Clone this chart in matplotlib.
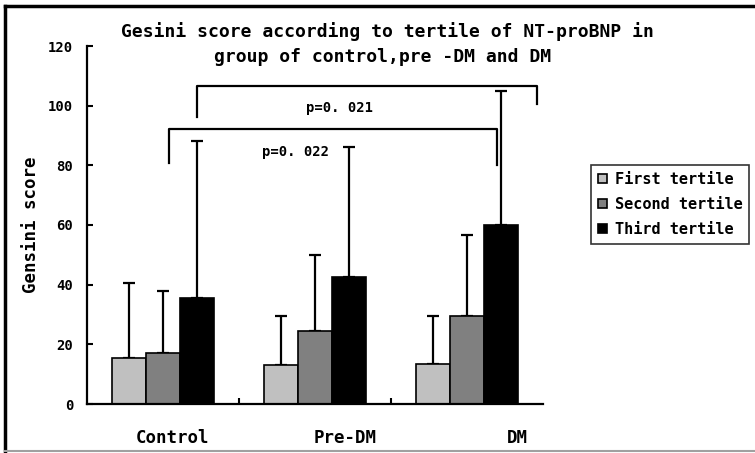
import matplotlib.pyplot as plt
from matplotlib.lines import Line2D
import numpy as np

groups = ["Control", "Pre-DM", "DM"]
series = ["First tertile", "Second tertile", "Third tertile"]
means = {
    "First tertile": [15.5, 13.0, 13.5],
    "Second tertile": [17.0, 24.5, 29.5],
    "Third tertile": [35.5, 42.5, 60.0],
}
upper = {
    "First tertile": [40.5, 29.5, 29.5],
    "Second tertile": [38.0, 50.0, 56.5],
    "Third tertile": [88.0, 86.0, 105.0],
}
colors = ["#c0c0c0", "#808080", "#000000"]

FONT = ["DejaVu Sans Mono"]

fig = plt.figure(figsize=(7.55, 4.53), dpi=100)
ax = fig.add_axes([87 / 755, 1 - 404 / 453, 456 / 755, 358 / 453])

x = np.arange(len(groups))
width = 0.222
for i, (name, color) in enumerate(zip(series, colors)):
    pos = x + (i - 1) * width
    vals = np.array(means[name])
    err = np.array(upper[name]) - vals
    ax.bar(pos, vals, width=width, color=color, edgecolor="black", linewidth=1.2,
           label=name, zorder=2)
    ax.errorbar(pos, vals, yerr=[np.zeros_like(err), err], fmt="none",
                ecolor="black", elinewidth=1.6, capsize=4, capthick=1.6, zorder=1)

ax.set_xlim(-0.5, 2.5)
ax.set_ylim(0, 120)
ax.set_yticks(np.arange(0, 121, 20))
ax.set_xticks([0.5, 1.5])
ax.set_xticklabels([])
ax.tick_params(axis="x", direction="in", length=4, width=1.5)
ax.tick_params(axis="y", direction="in", length=4, width=1.5, pad=10)
for t in ax.get_yticklabels():
    t.set_fontfamily(FONT)
    t.set_fontsize(10)
    t.set_fontweight("bold")
# category labels sit a bit right of the group centres, as in the source
label_offset = [0.06, 0.20, 0.33]
for lbl, xi, off in zip(groups, x, label_offset):
    ax.text(xi + off, -11.5, lbl, ha="center", va="center", fontsize=12.5,
            fontweight="bold", family=FONT)
for s in ["top", "right"]:
    ax.spines[s].set_visible(False)
ax.spines["left"].set_linewidth(1.6)
ax.spines["bottom"].set_linewidth(1.6)
ax.set_ylabel("Gensini score", fontsize=12.5, fontweight="bold", family=FONT, labelpad=6)

# significance brackets
ax.plot([0.224, 0.224, 2.46, 2.46], [96.3, 106.7, 106.7, 100.7], color="black", lw=1.6,
        clip_on=False)
ax.text(1.16, 99.3, "p=0. 021", ha="center", va="center", fontsize=10, fontweight="bold",
        family=FONT)
ax.plot([0.04, 0.04, 2.2, 2.2], [80.9, 92.3, 92.3, 80.0], color="black", lw=1.6,
        clip_on=False)
ax.text(0.875, 84.5, "p=0. 022", ha="center", va="center", fontsize=10, fontweight="bold",
        family=FONT)

fig.text(387 / 755, 1 - 32 / 453, "Gesini score according to tertile of NT-proBNP in",
         ha="center", va="center", fontsize=13, fontweight="bold", family=FONT)
fig.text(383 / 755, 1 - 57 / 453, "group of control,pre -DM and DM",
         ha="center", va="center", fontsize=13, fontweight="bold", family=FONT)

leg = fig.legend(loc="upper left", bbox_to_anchor=(591 / 755, 1 - 165 / 453),
                 frameon=True, fancybox=False, edgecolor="black", handlelength=0.6,
                 handleheight=0.6, handletextpad=0.5, borderpad=0.45, labelspacing=0.65,
                 borderaxespad=0,
                 prop={"family": FONT, "size": 11, "weight": "bold"})
leg.get_frame().set_linewidth(1.2)

# outer frame
fig.add_artist(Line2D([5 / 755, 755 / 755], [1 - 6 / 453, 1 - 6 / 453], color="black", lw=2.5))
fig.add_artist(Line2D([5 / 755, 5 / 755], [1 - 6 / 453, 0], color="black", lw=2.5))
fig.add_artist(Line2D([5 / 755, 1], [1 - 451 / 453, 1 - 451 / 453], color="#a0a0a0", lw=1.5))

fig.savefig("out.png", dpi=100)
